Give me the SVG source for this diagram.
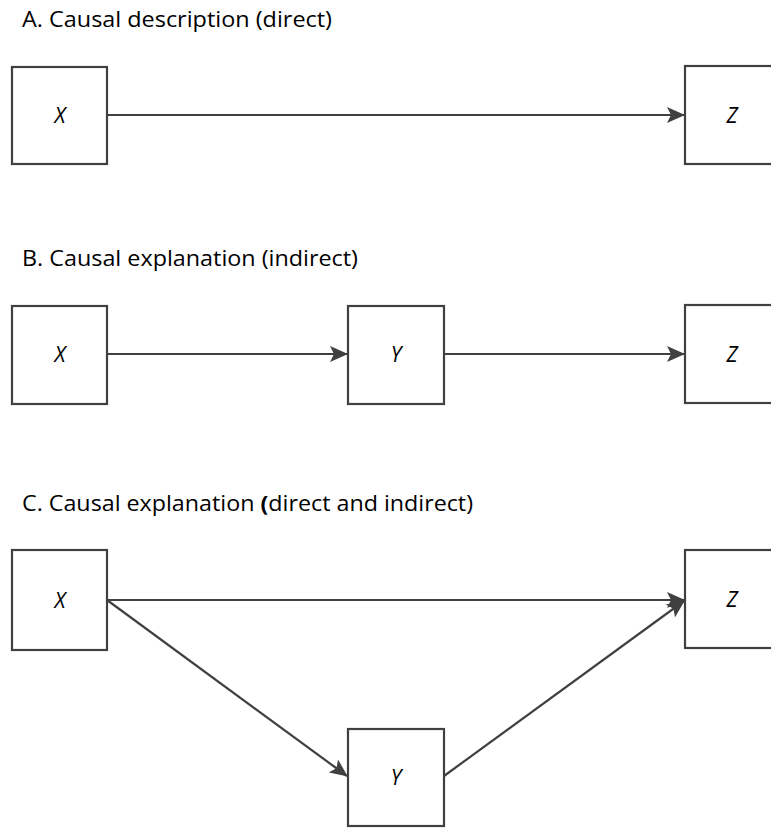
<svg xmlns="http://www.w3.org/2000/svg" width="771" height="828" viewBox="0 0 771 828">
  <style>
    .title { font-family: "Open Sans", "Liberation Sans", sans-serif; font-size: 21.5px; fill: #000; }
    .box { fill: #fff; stroke: #404040; stroke-width: 2.2; }
    .lbl { font-family: "Open Sans", "Liberation Sans", sans-serif; font-size: 21px; font-style: italic; fill: #000; text-anchor: middle; }
    .edge { fill: none; stroke: #404040; stroke-width: 2.2; }
  </style>
  <defs>
    <marker id="arrow" viewBox="0 0 18 16" refX="17" refY="8" markerWidth="18" markerHeight="16" markerUnits="userSpaceOnUse" orient="auto">
      <path d="M0,0 L18,8 L0,16 L4,8 Z" fill="#404040"/>
    </marker>
  </defs>
  <rect width="771" height="828" fill="#fff"/>

  <!-- section titles -->
  <text class="title" x="22" y="27" textLength="310" lengthAdjust="spacingAndGlyphs">A. Causal description (direct)</text>
  <text class="title" x="22" y="266" textLength="336" lengthAdjust="spacingAndGlyphs">B. Causal explanation (indirect)</text>
  <text class="title" x="22" y="511" textLength="451" lengthAdjust="spacingAndGlyphs">C. Causal explanation <tspan font-weight="bold">(</tspan>direct and indirect)</text>

  <!-- connectors -->
  <g id="connectors">
    <line class="edge" x1="107" y1="115" x2="684" y2="115" marker-end="url(#arrow)"/>
    <line class="edge" x1="107" y1="354" x2="347" y2="354" marker-end="url(#arrow)"/>
    <line class="edge" x1="444" y1="354" x2="684" y2="354" marker-end="url(#arrow)"/>
    <line class="edge" x1="107" y1="600" x2="684" y2="600" marker-end="url(#arrow)"/>
    <line class="edge" x1="107" y1="600" x2="347" y2="776" marker-end="url(#arrow)"/>
    <line class="edge" x1="444" y1="776" x2="684" y2="601" marker-end="url(#arrow)"/>
  </g>

  <!-- A -->
  <g id="a-x"><rect class="box" x="12" y="67" width="95" height="97"/><text class="lbl" x="60" y="123">X</text></g>
  <g id="a-z"><rect class="box" x="685" y="66" width="96" height="98"/><text class="lbl" x="732" y="123">Z</text></g>

  <!-- B -->
  <g id="b-x"><rect class="box" x="12" y="306" width="95" height="98"/><text class="lbl" x="60" y="362">X</text></g>
  <g id="b-y"><rect class="box" x="348" y="306" width="96" height="98"/><text class="lbl" x="396" y="362">Y</text></g>
  <g id="b-z"><rect class="box" x="685" y="305" width="96" height="98"/><text class="lbl" x="732" y="362">Z</text></g>

  <!-- C -->
  <g id="c-x"><rect class="box" x="12" y="550" width="95" height="100"/><text class="lbl" x="60" y="608">X</text></g>
  <g id="c-z"><rect class="box" x="685" y="550" width="96" height="98"/><text class="lbl" x="732" y="607">Z</text></g>
  <g id="c-y"><rect class="box" x="348" y="729" width="96" height="97"/><text class="lbl" x="396" y="785">Y</text></g>
</svg>
